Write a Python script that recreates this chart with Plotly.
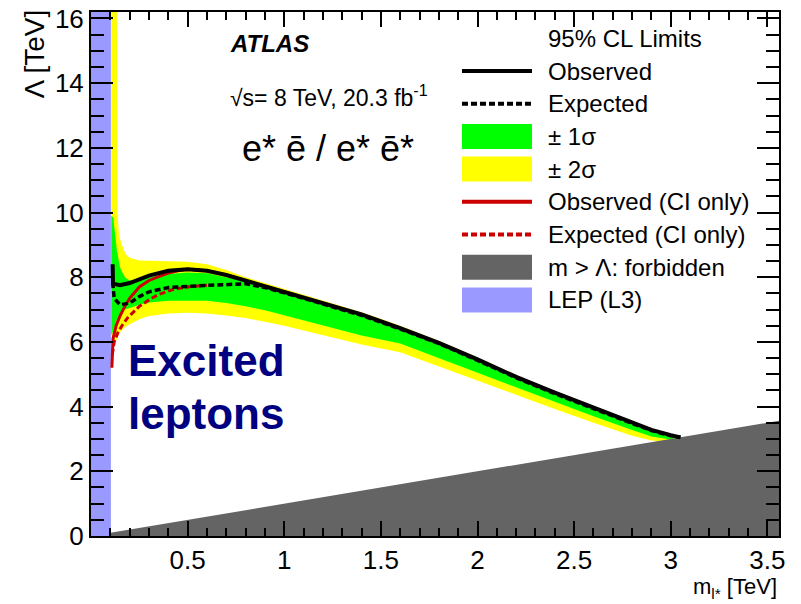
import plotly.graph_objects as go

# ---- excited-lepton limits in the (m, Lambda) plane, all values in TeV ----
x_range = [0.0, 3.56]
y_range = [0.0, 16.2]

x_tick_vals = [0.5, 1.0, 1.5, 2.0, 2.5, 3.0, 3.5]
x_tick_text = ["0.5", "1", "1.5", "2", "2.5", "3", "3.5"]
y_tick_vals = [0, 2, 4, 6, 8, 10, 12, 14, 16]
y_tick_text = ["0", "2", "4", "6", "8", "10", "12", "14", "16"]

# observed limit
obs_m = [0.112, 0.114, 0.15, 0.2, 0.3, 0.4, 0.5, 0.6, 0.7, 0.8, 0.9, 1.0, 1.1, 1.2,
         1.4, 1.6, 1.8, 2.0, 2.2, 2.4, 2.6, 2.8, 2.9, 3.0, 3.05]
obs_lam = [8.4, 7.8, 7.75, 7.82, 8.05, 8.2, 8.25, 8.2, 8.07, 7.9, 7.73, 7.55, 7.38, 7.2,
           6.85, 6.43, 5.97, 5.46, 4.92, 4.43, 3.96, 3.5, 3.28, 3.12, 3.05]

# expected limit
exp_m = [0.112, 0.12, 0.15, 0.2, 0.25, 0.3, 0.4, 0.5, 0.6, 0.7, 0.8, 0.9, 1.0, 1.1, 1.2,
         1.4, 1.6, 1.8, 2.0, 2.2, 2.4, 2.6, 2.8, 2.9, 3.0, 3.05]
exp_lam = [7.85, 7.35, 7.15, 7.2, 7.4, 7.55, 7.68, 7.72, 7.75, 7.77, 7.8, 7.68, 7.52, 7.35, 7.17,
           6.82, 6.4, 5.95, 5.43, 4.89, 4.4, 3.93, 3.48, 3.26, 3.1, 3.05]

# contact-interaction-only limits
ci_obs_m = [0.108, 0.114, 0.13, 0.15, 0.175, 0.2, 0.25, 0.3, 0.35, 0.4, 0.45, 0.5, 0.6]
ci_obs_lam = [5.2, 6.1, 6.5, 6.8, 7.1, 7.35, 7.7, 7.9, 8.02, 8.13, 8.2, 8.25, 8.2]
ci_exp_m = [0.11, 0.12, 0.14, 0.16, 0.19, 0.25, 0.3, 0.35, 0.43, 0.5, 0.6]
ci_exp_lam = [5.6, 6.0, 6.3, 6.5, 6.75, 7.1, 7.3, 7.47, 7.63, 7.7, 7.75]

# expected-limit uncertainty bands
band_m = [0.105, 0.115, 0.134, 0.15, 0.175, 0.2, 0.25, 0.3, 0.4, 0.5, 0.6, 0.7, 0.8, 0.9,
          1.0, 1.2, 1.4, 1.6, 1.8, 2.0, 2.2, 2.4, 2.6, 2.8, 2.9, 3.0, 3.05]
one_sigma_hi = [9.9, 9.85, 8.83, 8.3, 8.0, 7.9, 7.92, 8.0, 8.1, 8.15, 8.12, 8.0, 7.88, 7.74,
                7.57, 7.22, 6.87, 6.44, 5.97, 5.47, 4.92, 4.44, 3.97, 3.5, 3.29, 3.12, 3.05]
one_sigma_lo = [6.2, 6.35, 6.7, 6.85, 7.0, 7.05, 7.15, 7.22, 7.27, 7.28, 7.27, 7.2, 7.1, 6.98,
                6.82, 6.52, 6.2, 5.95, 5.5, 5.05, 4.6, 4.15, 3.7, 3.28, 3.08, 2.98, 3.05]
two_sigma_lo = [5.6, 5.8, 6.1, 6.3, 6.45, 6.55, 6.7, 6.8, 6.88, 6.9, 6.88, 6.82, 6.74, 6.62,
                6.5, 6.22, 5.92, 5.68, 5.25, 4.82, 4.37, 3.93, 3.5, 3.1, 2.95, 2.9, 3.05]
two_sigma_hi_m = [0.105, 0.134, 0.137, 0.145, 0.16, 0.18, 0.2, 0.25, 0.35, 0.5, 0.6, 0.7, 0.8,
                  0.9, 1.0, 1.2, 1.4, 1.6, 1.8, 2.0, 2.2, 2.4, 2.6, 2.8, 2.9, 3.0, 3.05]
two_sigma_hi = [16.3, 16.3, 10.0, 9.3, 9.0, 8.7, 8.6, 8.52, 8.5, 8.48, 8.4, 8.22, 8.0,
                7.82, 7.64, 7.28, 6.92, 6.5, 6.03, 5.52, 4.97, 4.48, 4.01, 3.54, 3.32, 3.15, 3.05]

# kinematic boundary m = Lambda and the LEP (L3) mass limit
forbidden_m = [0.0, 3.7]
forbidden_lam = [0.0, 3.7]
lep_mass_limit = 0.103

legend_labels = ["Observed", "Expected", "\u00b1 1\u03c3", "\u00b1 2\u03c3",
                 "Observed (CI only)", "Expected (CI only)",
                 "m > \u039b: forbidden", "LEP (L3)"]

C_YELLOW = "#ffff00"
C_GREEN = "#00ff00"
C_GRAY = "#646464"
C_LEP = "#9999ff"
C_RED = "#cc0000"
FONT = "Liberation Sans, Arial, sans-serif"

# plot area in pixels
L, R, T, B = 91, 779, 12, 536
W, H = 801, 604


def px(x):
    return (x - L) / (R - L)


def py(y):
    return (B - y) / (B - T)


fig = go.Figure()

# +-2 sigma band
fig.add_trace(go.Scatter(
    x=two_sigma_hi_m + band_m[::-1], y=two_sigma_hi + two_sigma_lo[::-1],
    fill="toself", fillcolor=C_YELLOW, line=dict(width=0), mode="lines",
    hoverinfo="skip", showlegend=False))
# +-1 sigma band
fig.add_trace(go.Scatter(
    x=band_m + band_m[::-1], y=one_sigma_hi + one_sigma_lo[::-1],
    fill="toself", fillcolor=C_GREEN, line=dict(width=0), mode="lines",
    hoverinfo="skip", showlegend=False))
# forbidden region m > Lambda
fig.add_trace(go.Scatter(
    x=forbidden_m, y=forbidden_lam, fill="tozeroy", fillcolor=C_GRAY,
    line=dict(width=0, color=C_GRAY), mode="lines", hoverinfo="skip", showlegend=False))
# LEP exclusion
fig.add_trace(go.Scatter(
    x=[0, lep_mass_limit, lep_mass_limit, 0], y=[0, 0, y_range[1], y_range[1]],
    fill="toself", fillcolor=C_LEP, line=dict(width=0), mode="lines",
    hoverinfo="skip", showlegend=False))
# CI-only limits
fig.add_trace(go.Scatter(x=ci_exp_m, y=ci_exp_lam, mode="lines",
                         line=dict(color=C_RED, width=3, dash="6px,3px"), showlegend=False))
fig.add_trace(go.Scatter(x=ci_obs_m, y=ci_obs_lam, mode="lines",
                         line=dict(color=C_RED, width=3), showlegend=False))
# full limits
fig.add_trace(go.Scatter(x=exp_m, y=exp_lam, mode="lines",
                         line=dict(color="black", width=3.5, dash="6px,3px"), showlegend=False))
fig.add_trace(go.Scatter(x=obs_m, y=obs_lam, mode="lines",
                         line=dict(color="black", width=4), showlegend=False))

shapes = []
annotations = []

# legend drawn in the upper right corner
annotations.append(dict(x=px(546), y=py(38), xref="paper", yref="paper", text="95% CL Limits",
                        showarrow=False, xanchor="left", yanchor="middle",
                        font=dict(family=FONT, size=24, color="black")))
row_y0, row_dy = 71, 32.7
sx0, sx1 = px(462), px(532)
styles = [("line", "black", "solid"), ("line", "black", "dash"), ("box", C_GREEN, None),
          ("box", C_YELLOW, None), ("line", C_RED, "solid"), ("line", C_RED, "dash"),
          ("box", C_GRAY, None), ("box", C_LEP, None)]
for i, (label, (kind, col, dash)) in enumerate(zip(legend_labels, styles)):
    yc = row_y0 + i * row_dy
    if kind == "line":
        shapes.append(dict(type="line", xref="paper", yref="paper", x0=sx0, x1=sx1,
                           y0=py(yc), y1=py(yc),
                           line=dict(color=col, width=4,
                                     dash="solid" if dash == "solid" else "6px,3px")))
    else:
        shapes.append(dict(type="rect", xref="paper", yref="paper", x0=sx0, x1=sx1,
                           y0=py(yc + 12.5), y1=py(yc - 12.5), fillcolor=col,
                           line=dict(width=0)))
    annotations.append(dict(x=px(546), y=py(yc), xref="paper", yref="paper", text=label,
                            showarrow=False, xanchor="left", yanchor="middle",
                            font=dict(family=FONT, size=24, color="black")))

# labels inside the frame
annotations += [
    dict(x=px(228), y=py(43), xref="paper", yref="paper", text="<b><i>ATLAS</i></b>",
         showarrow=False, xanchor="left", yanchor="middle",
         font=dict(family=FONT, size=24, color="black")),
    dict(x=px(228), y=py(96), xref="paper", yref="paper",
         text="\u221as= 8 TeV, 20.3 fb<sup>-1</sup>",
         showarrow=False, xanchor="left", yanchor="middle",
         font=dict(family=FONT, size=23, color="black")),
    dict(x=px(240), y=py(148), xref="paper", yref="paper",
         text="e* \u0113 / e* \u0113*",
         showarrow=False, xanchor="left", yanchor="middle",
         font=dict(family=FONT, size=36, color="black")),
    dict(x=px(126), y=py(360), xref="paper", yref="paper", text="<b>Excited</b>",
         showarrow=False, xanchor="left", yanchor="middle",
         font=dict(family=FONT, size=44, color="#000080")),
    dict(x=px(126), y=py(413), xref="paper", yref="paper", text="<b>leptons</b>",
         showarrow=False, xanchor="left", yanchor="middle",
         font=dict(family=FONT, size=44, color="#000080")),
    # axis titles
    dict(x=px(34), y=py(8), xref="paper", yref="paper", text="\u039b [TeV]",
         showarrow=False, xanchor="center", yanchor="top", textangle=-90,
         font=dict(family=FONT, size=28, color="black")),
    dict(x=px(779), y=py(604), xref="paper", yref="paper",
         text="m<sub>l*</sub> [TeV]",
         showarrow=False, xanchor="right", yanchor="bottom",
         font=dict(family=FONT, size=22, color="black")),
]

axis_common = dict(showgrid=False, zeroline=False, showline=True, linecolor="black",
                   linewidth=2, mirror="allticks", ticks="inside", tickcolor="black",
                   tickwidth=2, automargin=False,
                   tickfont=dict(family=FONT, size=26, color="black"))

fig.update_layout(
    width=W, height=H,
    margin=dict(l=L, r=W - R, t=T, b=H - B),
    paper_bgcolor="white", plot_bgcolor="white",
    showlegend=False,
    shapes=shapes, annotations=annotations,
    xaxis=dict(range=x_range, tickmode="array", tickvals=x_tick_vals, ticktext=x_tick_text,
               ticklen=15,
               minor=dict(tickmode="linear", tick0=0, dtick=0.1, ticklen=8, ticks="inside",
                          tickcolor="black", tickwidth=2),
               **axis_common),
    yaxis=dict(range=y_range, tickmode="array", tickvals=y_tick_vals, ticktext=y_tick_text,
               ticklen=22,
               minor=dict(tickmode="linear", tick0=0, dtick=0.5, ticklen=13, ticks="inside",
                          tickcolor="black", tickwidth=2),
               **axis_common),
)

fig.write_html("out.html")
